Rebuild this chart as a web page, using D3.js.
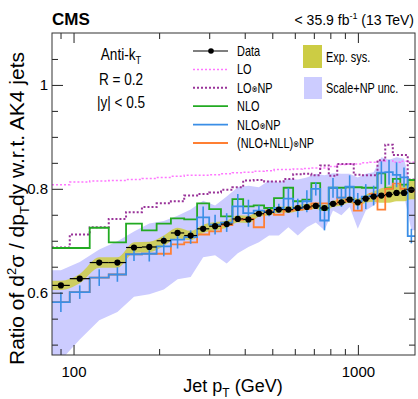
<!DOCTYPE html>
<html><head><meta charset="utf-8">
<script src="https://cdn.jsdelivr.net/npm/d3@7"></script>
<style>
body{margin:0;background:#fff}
text{font-family:"Liberation Sans",Arial,Helvetica,sans-serif;fill:#000}
</style>
</head><body>
<svg id="c" width="418" height="399"></svg>
<script>
// ---------- data ----------
const binEdges=[84,97,114,133,153,174,196,220,245,272,300,330,362,395,430,468,507,548,592,638,686,737,790,846,905,967,1032,1101,1172,1248,1327,1410,1497,1588];
const dataVals=[0.614,0.627,0.658,0.658,0.687,0.688,0.700,0.715,0.710,0.723,0.728,0.732,0.742,0.741,0.752,0.755,0.760,0.760,0.763,0.765,0.767,0.763,0.771,0.774,0.779,0.774,0.781,0.785,0.787,0.789,0.792,0.792,0.798];
const dataStat=[0.004,0.003,0.003,0.003,0.003,0.003,0.003,0.003,0.003,0.003,0.003,0.003,0.003,0.003,0.003,0.003,0.003,0.003,0.003,0.003,0.003,0.003,0.003,0.003,0.003,0.003,0.003,0.004,0.004,0.004,0.005,0.005,0.006];
const expSys=[0.009,0.009,0.01,0.01,0.01,0.01,0.01,0.01,0.009,0.008,0.008,0.007,0.007,0.007,0.006,0.006,0.006,0.006,0.006,0.006,0.006,0.006,0.006,0.006,0.006,0.007,0.008,0.010,0.014,0.016,0.016,0.016,0.018];
const loVals=[0.808,0.813,0.815,0.816,0.818,0.820,0.822,0.824,0.826,0.826,0.827,0.829,0.831,0.832,0.834,0.835,0.837,0.837,0.838,0.839,0.840,0.840,0.843,0.847,0.848,0.848,0.850,0.851,0.853,0.854,0.851,0.853,0.851];
const loNpVals=[0.687,0.712,0.726,0.742,0.755,0.765,0.772,0.776,0.787,0.790,0.793,0.798,0.803,0.816,0.817,0.814,0.814,0.819,0.828,0.829,0.826,0.845,0.825,0.848,0.848,0.827,0.826,0.826,0.855,0.885,0.865,0.865,0.818];
const nloVals=[0.686,0.686,0.725,0.697,0.733,0.720,0.733,0.743,0.741,0.772,0.761,0.747,0.780,0.766,0.768,0.763,0.782,0.802,0.776,0.779,0.811,0.760,0.802,0.802,0.803,0.803,0.802,0.802,0.830,0.801,0.819,0.808,0.817];
const nloNpVals=[0.582,0.601,0.629,0.635,0.674,0.675,0.689,0.702,0.707,0.745,0.731,0.735,0.766,0.753,0.758,0.755,0.763,0.781,0.763,0.776,0.800,0.739,0.802,0.783,0.804,0.776,0.785,0.787,0.831,0.832,0.827,0.822,0.709];
const nloNpErr=[0.019,0.013,0.016,0.014,0.013,0.015,0.019,0.017,0.013,0.021,0.019,0.018,0.024,0.026,0.010,0.008,0.008,0.021,0.018,0.021,0.013,0.019,0.019,0.018,0.022,0.016,0.024,0.019,0.022,0.024,0.024,0.019,0.014];
const nllNpVals=[0.582,0.601,0.629,0.635,0.674,0.675,0.675,0.693,0.697,0.712,0.718,0.730,0.740,0.742,0.726,0.757,0.750,0.758,0.760,0.762,0.772,0.772,0.771,0.783,0.776,0.758,0.783,0.790,0.760,0.800,0.810,0.800,0.795];
const bandHi=[0.643,0.659,0.683,0.699,0.718,0.733,0.738,0.748,0.760,0.777,0.768,0.785,0.803,0.806,0.803,0.816,0.812,0.819,0.818,0.822,0.829,0.826,0.830,0.829,0.829,0.822,0.829,0.832,0.861,0.856,0.861,0.858,0.800];
const bandLo=[0.470,0.510,0.547,0.563,0.592,0.597,0.606,0.626,0.630,0.668,0.672,0.656,0.676,0.688,0.697,0.710,0.710,0.726,0.710,0.726,0.735,0.720,0.758,0.749,0.765,0.723,0.758,0.768,0.781,0.787,0.785,0.787,0.720];
const xMajorTicks=[100,1000];
const xMinorTicks=[90,200,300,400,500,600,700,800,900];
const yMajorTicks=[0.6,0.8,1.0];
const yMinorTicks=[0.5,0.55,0.65,0.7,0.75,0.85,0.9,0.95,1.05];

// ---------- layout ----------
const L=52,R=415,T=33,B=355;
const svg=d3.select("#c");
const x=d3.scaleLog().domain([84,1588]).range([L,R]);
const y=d3.scaleLinear().domain([0.48,1.1]).range([B,T]);
const nb=dataVals.length;
const centers=d3.range(nb).map(i=>Math.sqrt(binEdges[i]*binEdges[i+1]));

svg.append("defs").append("clipPath").attr("id","clip")
  .append("rect").attr("x",L).attr("y",T).attr("width",R-L).attr("height",B-T);
const plot=svg.append("g").attr("clip-path","url(#clip)");

function bandPts(lo,hi){
  const pts=[{x:binEdges[0],lo:lo[0],hi:hi[0]}];
  centers.forEach((c,i)=>pts.push({x:c,lo:lo[i],hi:hi[i]}));
  pts.push({x:binEdges[nb],lo:lo[nb-1],hi:hi[nb-1]});
  return pts;
}
const area=d3.area().x(d=>x(d.x)).y0(d=>y(d.lo)).y1(d=>y(d.hi));
plot.append("path").datum(bandPts(bandLo,bandHi)).attr("d",area).attr("fill","#ccccff");

const expLo=dataVals.map((v,i)=>v-expSys[i]), expHi=dataVals.map((v,i)=>v+expSys[i]);
plot.append("path").datum(bandPts(expLo,expHi)).attr("d",area.curve(d3.curveMonotoneX)).attr("fill","#cccc44").attr("opacity",0.85);

function stepPts(vals){const p=[];vals.forEach((v,i)=>{p.push([binEdges[i],v]);p.push([binEdges[i+1],v]);});return p;}
const line=d3.line().x(d=>x(d[0])).y(d=>y(d[1]));
function step(vals,color,w,dash){
  plot.append("path").datum(stepPts(vals)).attr("d",line).attr("fill","none")
    .attr("stroke",color).attr("stroke-width",w).attr("stroke-dasharray",dash||null);
}
step(loVals,"#ff77ff",1.5,"2,2");
step(loNpVals,"#993399",2,"2,2");
step(nloVals,"#22aa22",1.8);
step(nllNpVals,"#ff7f33",1.8);
step(nloNpVals,"#3a8ee6",1.8);
plot.selectAll(".be").data(d3.range(nb)).join("line")
  .attr("x1",i=>x(centers[i])).attr("x2",i=>x(centers[i]))
  .attr("y1",i=>y(nloNpVals[i]-nloNpErr[i])).attr("y2",i=>y(nloNpVals[i]+nloNpErr[i]))
  .attr("stroke","#3a8ee6").attr("stroke-width",1.6);

plot.selectAll(".dh").data(d3.range(nb)).join("line")
  .attr("x1",i=>x(binEdges[i])).attr("x2",i=>x(binEdges[i+1]))
  .attr("y1",i=>y(dataVals[i])).attr("y2",i=>y(dataVals[i]))
  .attr("stroke","#000").attr("stroke-width",1.2);
plot.selectAll(".dv").data(d3.range(nb)).join("line")
  .attr("x1",i=>x(centers[i])).attr("x2",i=>x(centers[i]))
  .attr("y1",i=>y(dataVals[i]-dataStat[i])).attr("y2",i=>y(dataVals[i]+dataStat[i]))
  .attr("stroke","#000").attr("stroke-width",1.2);
plot.selectAll(".dp").data(d3.range(nb)).join("circle")
  .attr("cx",i=>x(centers[i])).attr("cy",i=>y(dataVals[i])).attr("r",3.1).attr("fill","#000");

// ---------- axes ----------
function styleAxis(g){g.select(".domain").remove();g.selectAll("line").attr("stroke","#222");g.selectAll("text").attr("font-family","Liberation Sans, Arial, sans-serif").attr("font-size",15).attr("fill","#000");}
svg.append("g").attr("transform",`translate(0,${B})`)
  .call(d3.axisBottom(x).tickValues(xMajorTicks).tickSize(-10).tickPadding(11).tickFormat(d3.format("d"))).call(styleAxis);
svg.append("g").attr("transform",`translate(0,${B})`)
  .call(d3.axisBottom(x).tickValues(xMinorTicks).tickSize(-6).tickFormat("")).call(styleAxis);
svg.append("g").attr("transform",`translate(0,${T})`)
  .call(d3.axisTop(x).tickValues(xMajorTicks).tickSize(-10).tickFormat("")).call(styleAxis);
svg.append("g").attr("transform",`translate(0,${T})`)
  .call(d3.axisTop(x).tickValues(xMinorTicks).tickSize(-6).tickFormat("")).call(styleAxis);
svg.append("g").attr("transform",`translate(${L},0)`)
  .call(d3.axisLeft(y).tickValues(yMajorTicks).tickSize(-11).tickPadding(4).tickFormat(d=>d===1?"1":d.toFixed(1))).call(styleAxis);
svg.append("g").attr("transform",`translate(${L},0)`)
  .call(d3.axisLeft(y).tickValues(yMinorTicks).tickSize(-6).tickFormat("")).call(styleAxis);
svg.append("g").attr("transform",`translate(${R},0)`)
  .call(d3.axisRight(y).tickValues(yMajorTicks).tickSize(-11).tickFormat("")).call(styleAxis);
svg.append("g").attr("transform",`translate(${R},0)`)
  .call(d3.axisRight(y).tickValues(yMinorTicks).tickSize(-6).tickFormat("")).call(styleAxis);
svg.append("rect").attr("x",L).attr("y",T).attr("width",R-L).attr("height",B-T)
  .attr("fill","none").attr("stroke","#333").attr("stroke-width",1);

// ---------- titles ----------
svg.append("text").attr("x",52).attr("y",25).attr("font-size",17).attr("font-weight","bold").text("CMS");
const hdr=svg.append("text").attr("x",414).attr("y",25).attr("font-size",14).attr("text-anchor","end");
hdr.append("tspan").text("< 35.9 fb");
hdr.append("tspan").attr("font-size",9).attr("dy",-6).text("-1");
hdr.append("tspan").attr("dy",6).text(" (13 TeV)");

const xt=svg.append("text").attr("x",233).attr("y",392).attr("font-size",18).attr("text-anchor","middle");
xt.append("tspan").text("Jet p");
xt.append("tspan").attr("font-size",12).attr("dy",5).text("T");
xt.append("tspan").attr("dy",-5).text(" (GeV)");

const yt=svg.append("text").attr("transform","translate(24,52) rotate(-90)").attr("font-size",21).attr("text-anchor","end");
yt.append("tspan").text("Ratio of d");
yt.append("tspan").attr("font-size",13).attr("dy",-8).text("2");
yt.append("tspan").attr("dy",8).text("σ / dp");
yt.append("tspan").attr("font-size",13).attr("dy",5).text("T");
yt.append("tspan").attr("dy",-5).text("dy w.r.t. AK4 jets");

// ---------- legend ----------
const info=svg.append("g").attr("transform","translate(121,0) scale(0.85,1)");
const ak=info.append("text").attr("y",60).attr("font-size",16).attr("text-anchor","middle");
ak.append("tspan").text("Anti-k");
ak.append("tspan").attr("font-size",11).attr("dy",4).text("T");
info.append("text").attr("y",85).attr("font-size",16).attr("text-anchor","middle").text("R = 0.2");
info.append("text").attr("y",108).attr("font-size",16).attr("text-anchor","middle").text("|y| < 0.5");

const legItems=[
 {label:["Data"],color:"#000",dash:null,w:1.2,dot:true},
 {label:["LO"],color:"#ff77ff",dash:"2,2",w:1.5},
 {label:["LO","⊗","NP"],color:"#993399",dash:"2,2",w:2},
 {label:["NLO"],color:"#22aa22",dash:null,w:1.8},
 {label:["NLO","⊗","NP"],color:"#3a8ee6",dash:null,w:1.8},
 {label:["(NLO+NLL)","⊗","NP"],color:"#ff7f33",dash:null,w:1.8}
];
legItems.forEach((it,i)=>{
  const cy=51+i*18.4;
  svg.append("line").attr("x1",193).attr("x2",228).attr("y1",cy).attr("y2",cy)
    .attr("stroke",it.color).attr("stroke-width",it.w).attr("stroke-dasharray",it.dash);
  if(it.dot) svg.append("circle").attr("cx",211).attr("cy",cy).attr("r",2.8).attr("fill","#000");
  const t=svg.append("text").attr("transform",`translate(237,${cy+5}) scale(0.78,1)`).attr("font-size",14);
  it.label.forEach(s=>{
    if(s==="⊗") t.append("tspan").attr("font-size",9).attr("font-family","DejaVu Sans").attr("dy",-1).text(s);
    else t.append("tspan").attr("dy",s==="NP"?1:0).text(s);
  });
});
svg.append("rect").attr("x",303).attr("y",45).attr("width",19).attr("height",23).attr("fill","#cccc44");
svg.append("text").attr("transform","translate(326,62) scale(0.78,1)").attr("font-size",14).text("Exp. sys.");
svg.append("rect").attr("x",304).attr("y",77).attr("width",18).attr("height",22).attr("fill","#ccccff");
svg.append("text").attr("transform","translate(326,93) scale(0.78,1)").attr("font-size",14).text("Scale+NP unc.");
</script>
</body></html>
